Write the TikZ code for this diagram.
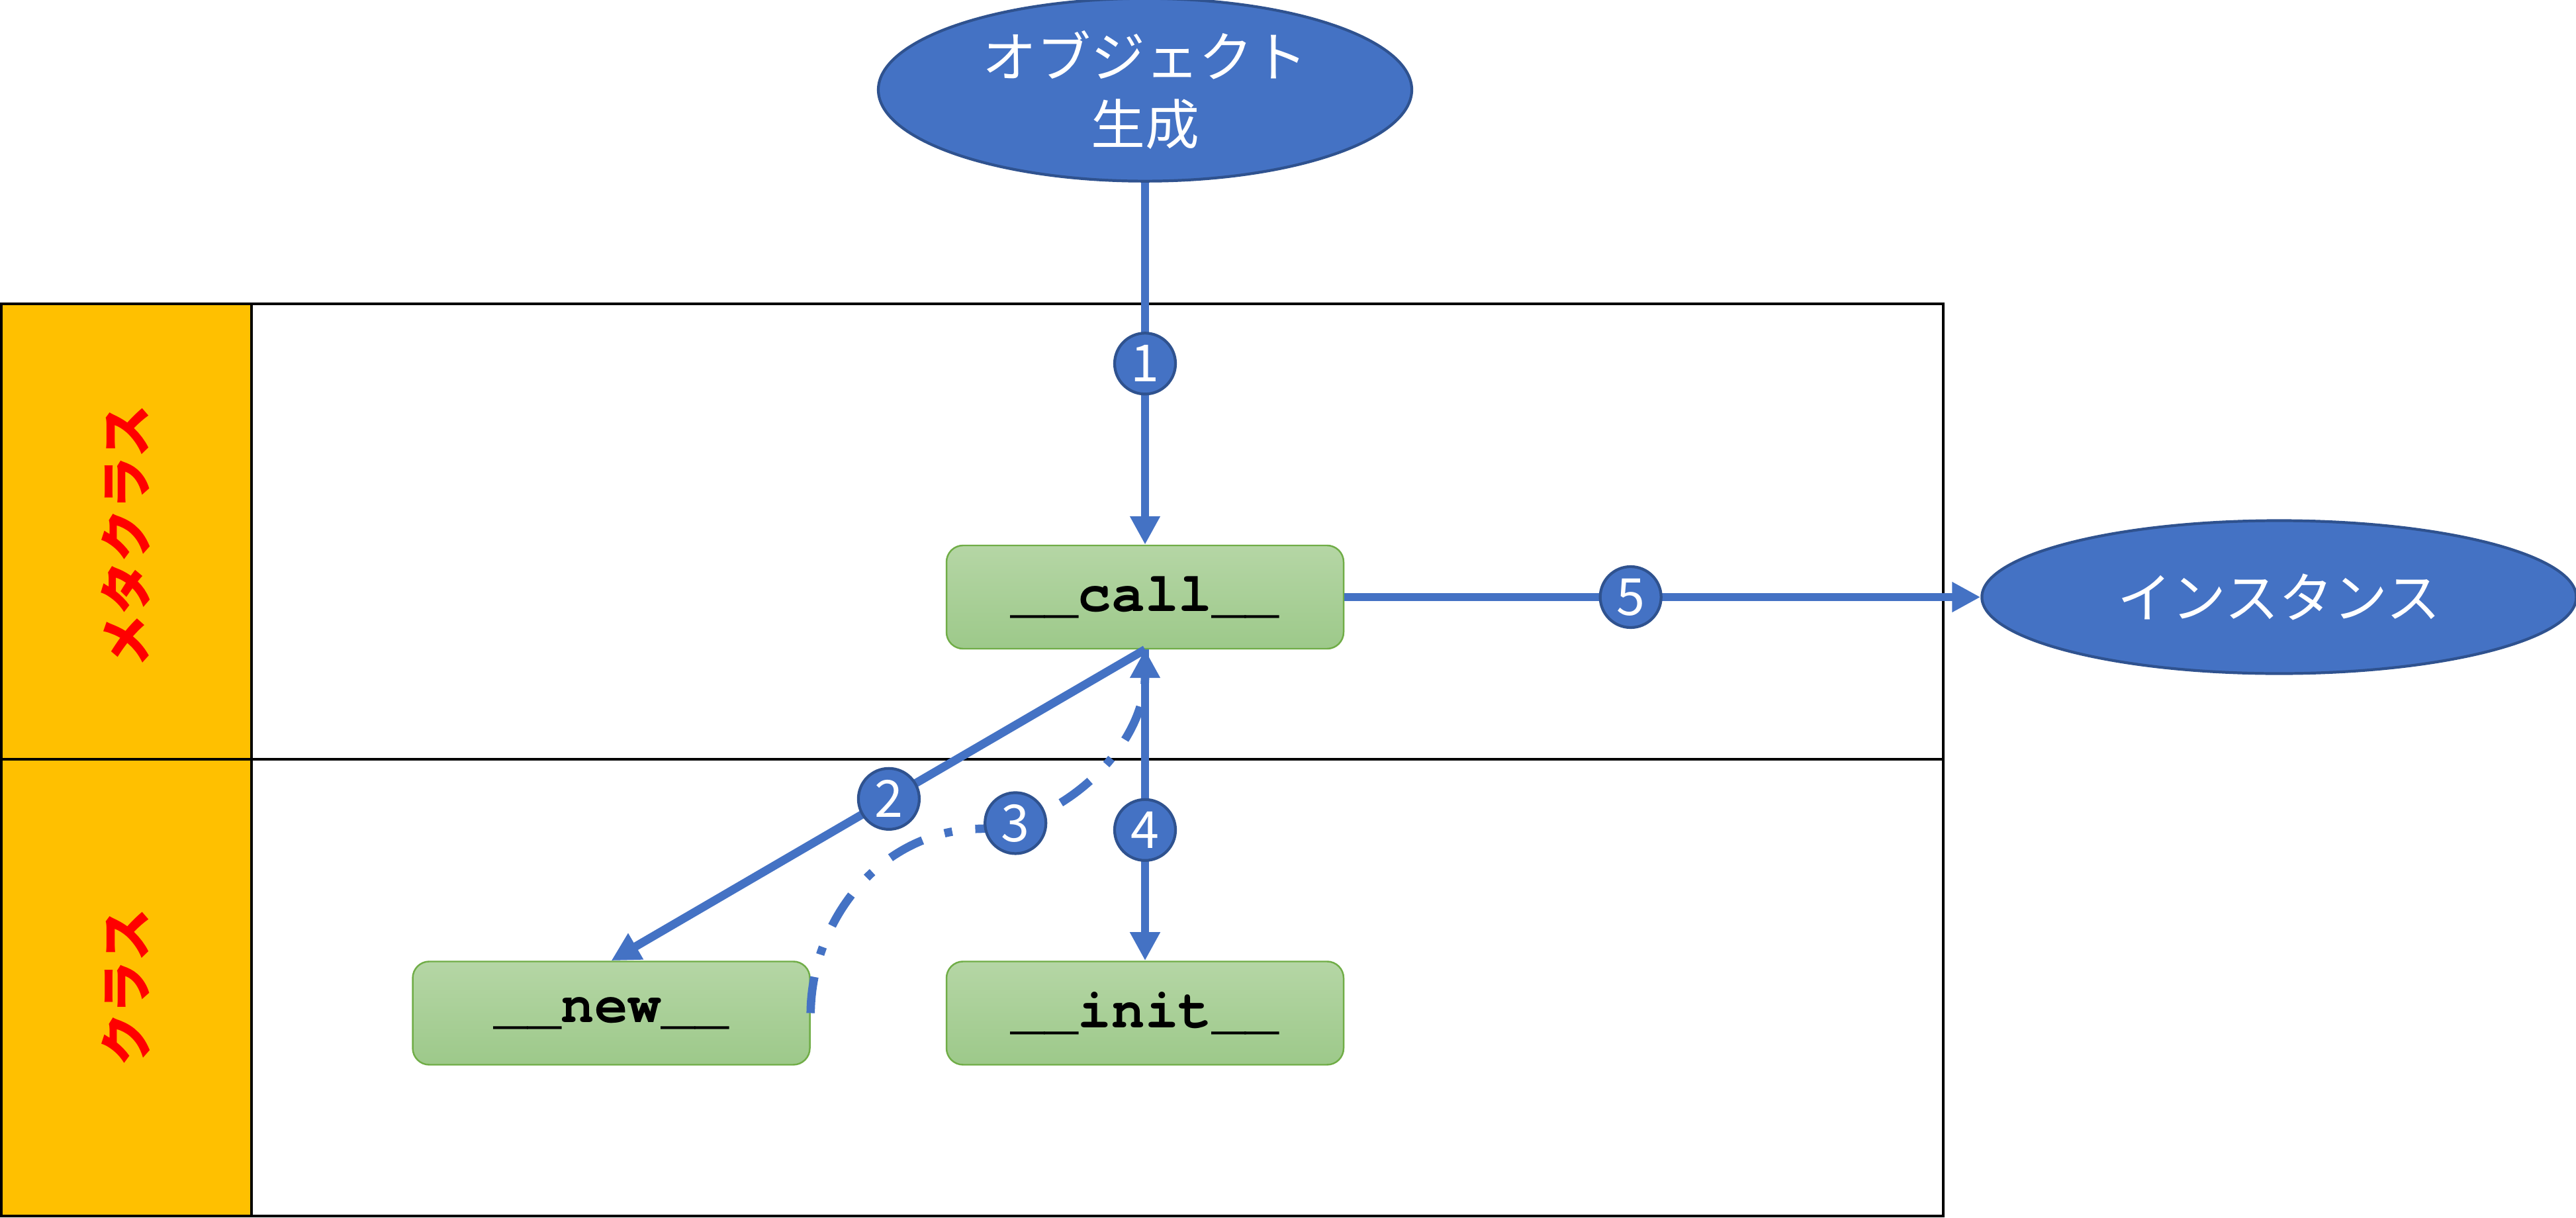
\documentclass[tikz,border=0pt]{standalone}
\usepackage{fontspec}
\usepackage{tikz}
\usetikzlibrary{positioning, calc}
\usetikzlibrary{arrows.meta, shapes.geometric}
\newfontfamily\jpfont{Noto Sans CJK JP}
\newfontfamily\codefont{texgyrecursor}[Extension=.otf, UprightFont=*-regular, BoldFont=*-bold]
\definecolor{ppblue}{HTML}{4472C4}
\definecolor{ppdark}{HTML}{2F528F}
\definecolor{grtop}{HTML}{B5D6A5}
\definecolor{grbot}{HTML}{9DC98A}
\definecolor{grline}{HTML}{70AD47}
\definecolor{lanefill}{HTML}{FFC000}
\tikzstyle{ovalnode}=[ellipse,draw=ppdark,line width=1.2pt,fill=ppblue,
text=white,inner sep=0pt,align=center,font=\jpfont\fontsize{23.3}{29}\selectfont]
\tikzstyle{methodbox}=[rectangle,rounded corners=2.5mm,draw=grline,line width=0.7pt,
top color=grtop,bottom color=grbot,minimum width=6cm,minimum height=1.56cm,
font=\codefont\bfseries\fontsize{24}{24}\selectfont]
\tikzstyle{numcircle}=[circle,solid,draw=ppdark,line width=1.2pt,fill=ppblue,
text=white,inner sep=0pt,minimum size=9.2mm,font=\jpfont\fontsize{22}{22}\selectfont]
\tikzstyle{lanetext}=[rotate=90,text=red,font=\jpfont\bfseries\fontsize{22.7}{22.7}\selectfont]
\tikzstyle{edgepath}=[-{Triangle[length=4.3mm,width=4.3mm]},color=ppblue,line width=3.6pt]
\tikzstyle{returnpath}=[edgepath,dash pattern=on 5.5mm off 3.5mm on 1.2mm off 3.5mm]

\begin{document}
\begin{tikzpicture}
    \useasboundingbox (0,0) rectangle (38.92,-18.39);
    % lanes
    \fill[lanefill] (0.02,-4.59) rectangle (3.80,-18.37);
    \draw[line width=1.2pt] (0.02,-4.59) rectangle (29.36,-18.37);
    \draw[line width=1.2pt] (3.80,-4.59) -- (3.80,-18.37);
    \draw[line width=1.2pt] (0.02,-11.47) -- (29.36,-11.47);
    \node[lanetext] (meta) at (1.90,-8.10) {メタクラス};
    \node[lanetext] (cls) at (1.90,-14.92) {クラス};
    
    \node[methodbox] (call) at (17.30,-9.02) {\_\_call\_\_};
    \node[methodbox, below=4.7cm of call] (init) {\_\_init\_\_};
    \node[methodbox, left=2.04cm of init] (new) {\_\_new\_\_};
    \node[ovalnode, minimum width=8.06cm, minimum height=2.76cm,
    above=5.47cm of call] (obj) {オブジェクト\\生成};
    \node[ovalnode, minimum width=8.98cm, minimum height=2.31cm,
    right=9.61cm of call] (inst) {インスタンス};
    
    \coordinate (bend) at (14.80,-12.52);
    
    \path[edgepath]
    (obj) edge node[numcircle] {1} (call)
    (call.south) edge node[numcircle, pos=0.48] {2} (new.north)
    (call.south) edge node[numcircle, pos=0.58] {4} (init.north)
    (call) edge node[numcircle, pos=0.45] {5} (inst);
    \draw[returnpath] (new.east) .. controls (12.26,-13.9) and (13.3,-12.55) .. (bend)
    .. controls (16.0,-12.5) and (17.30,-11.3) .. node[numcircle, pos=0.15] {3} (call.south);
\end{tikzpicture}
\end{document}
